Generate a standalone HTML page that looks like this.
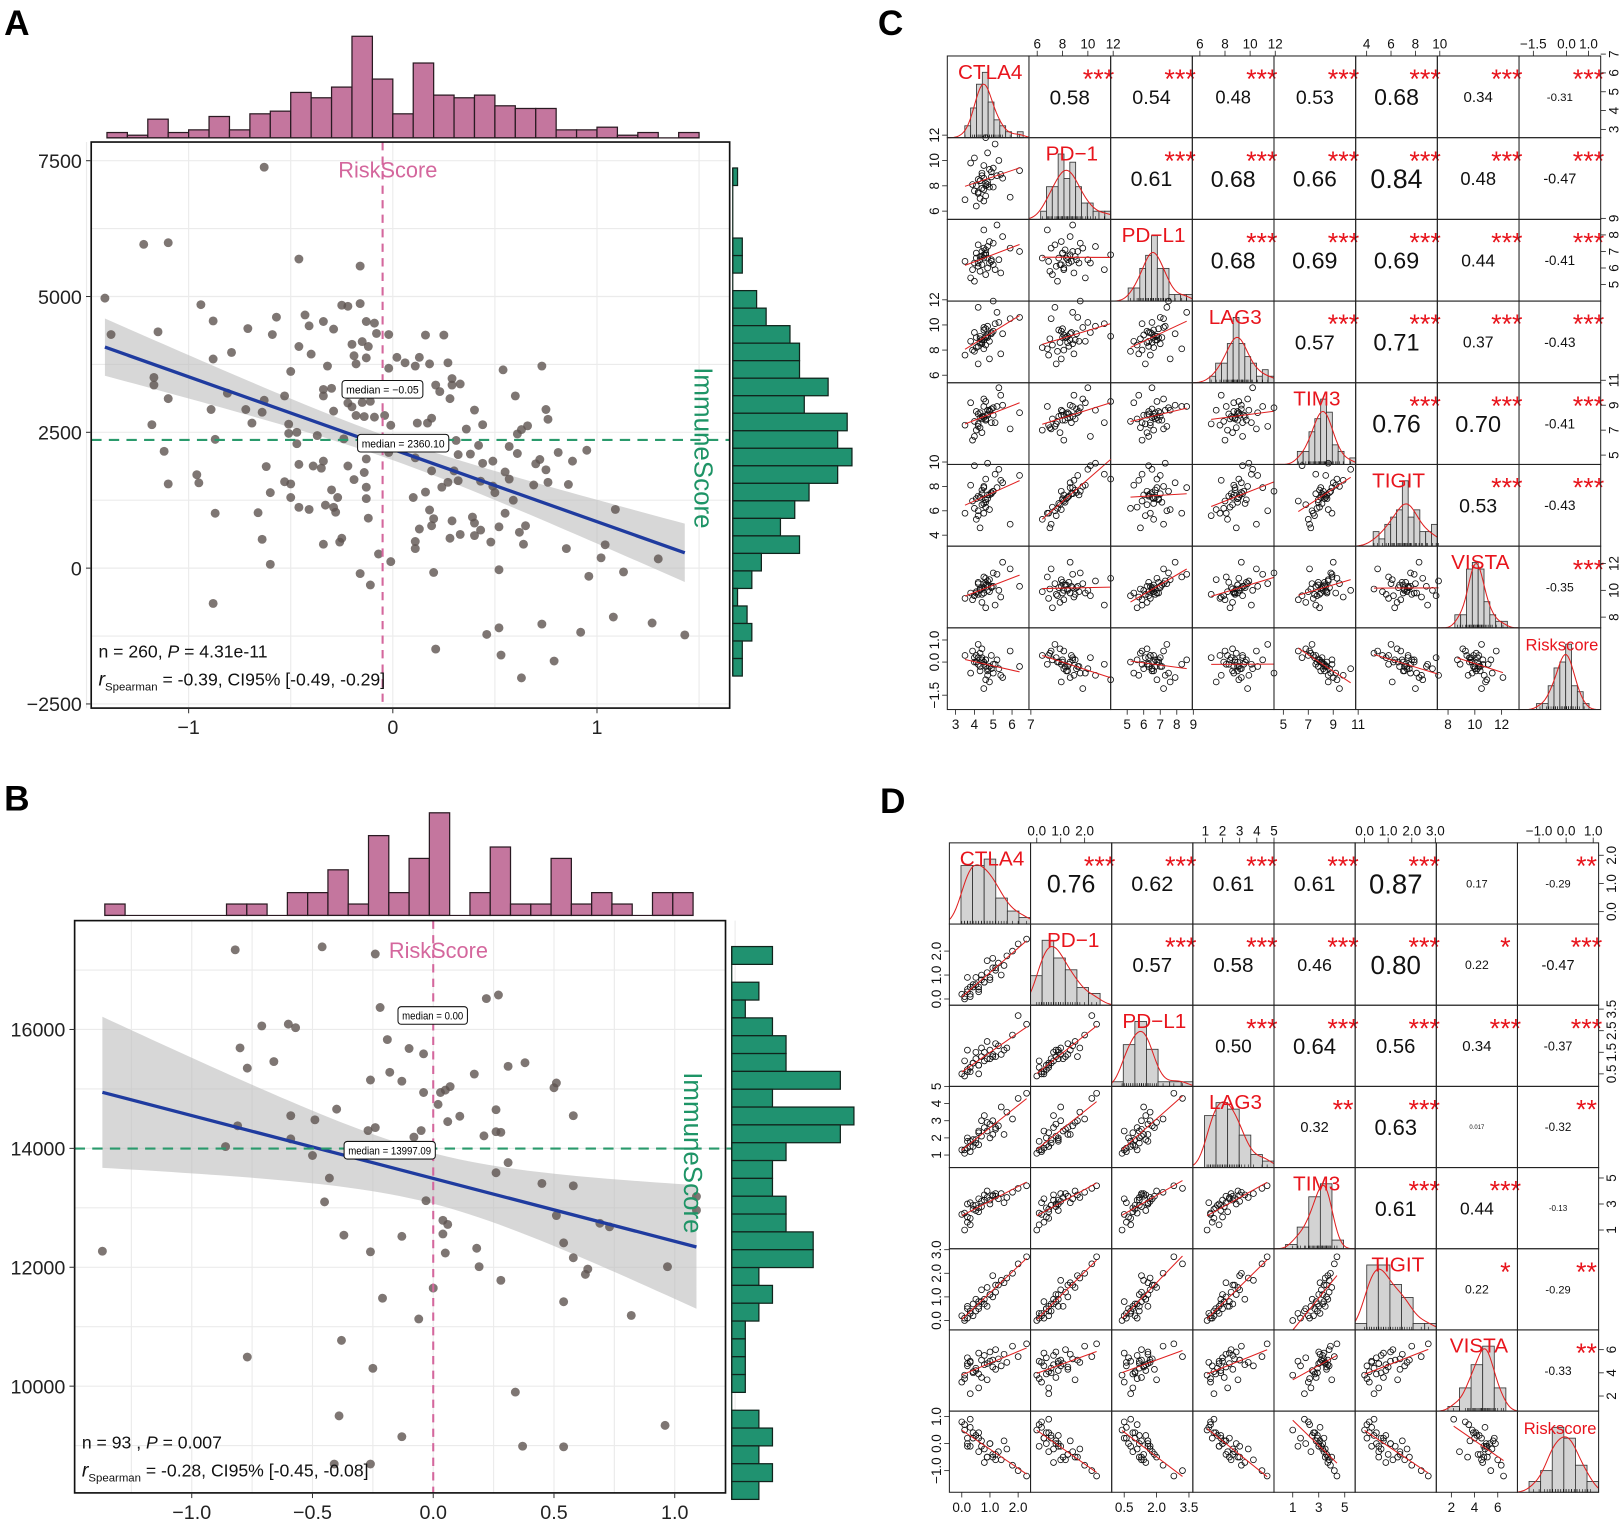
<!DOCTYPE html>
<html><head><meta charset="utf-8">
<style>
html,body{margin:0;padding:0;background:#fff;}
svg{display:block;font-family:"Liberation Sans",Arial,sans-serif;}
</style></head>
<body>
<svg id="fig" width="1621" height="1524" viewBox="0 0 1564 1470" preserveAspectRatio="none">
  <text x="4" y="34" font-size="34" font-weight="bold">A</text>
  <text x="4" y="782" font-size="34" font-weight="bold">B</text>
  <text x="847" y="34" font-size="34" font-weight="bold">C</text>
  <text x="849" y="784" font-size="34" font-weight="bold">D</text>
</svg>
<script>
// ===== Panel A data =====
const aRisk=[-0.63,-1.22,-1.10,-0.46,-0.16,-1.41,-0.94,-1.38,-1.15,-0.88,-0.71,-0.57,-0.59,-0.79,-0.88,-0.43,-0.41,-0.34,-0.29,-0.25,-0.22,-0.16,-0.13,-0.09,-0.08,-0.02,0.16,0.25,-0.46,-0.40,-0.50,-0.32,-0.20,-0.15,-0.12,-0.19,-0.13,-0.18,-0.02,0.02,0.06,0.11,0.13,0.18,0.27,0.54,0.73,-1.17,-1.17,-1.10,-0.81,-1.18,-0.89,-0.72,-0.64,-0.63,-0.53,-0.69,-0.51,-0.51,-0.47,-0.37,-0.34,-0.30,-0.34,-0.29,-0.22,-0.20,-0.15,-0.11,-0.18,-0.14,-0.09,-0.04,-0.01,0.12,0.17,0.19,0.21,0.23,0.29,0.29,0.33,0.28,0.40,0.60,0.75,0.76,0.66,0.63,0.61,0.44,0.36,0.31,0.42,0.38,0.32,0.57,0.61,0.81,0.95,0.88,0.72,0.70,0.75,0.44,0.49,0.19,0.11,-0.02,-0.10,-0.13,-0.22,-0.24,-0.47,-0.87,-1.12,-0.62,-0.46,-0.39,-0.35,-0.34,-0.14,-0.19,-0.13,-0.13,-0.30,-0.27,-0.12,-0.28,-0.33,-0.29,-0.46,-0.41,-0.50,-0.50,-0.53,-0.60,-0.66,-0.87,-1.10,-0.96,-0.95,0.30,0.55,0.57,0.43,0.49,0.50,0.59,0.69,0.76,0.86,0.32,0.27,0.24,0.16,0.10,0.18,0.20,0.55,0.29,0.39,0.40,0.19,0.52,0.65,0.62,0.43,0.40,0.33,0.28,0.13,0.11,0.11,0.48,0.64,0.85,1.04,1.09,1.02,1.30,0.96,1.13,0.52,0.20,-0.01,-0.07,-0.16,-0.11,-0.25,-0.26,-0.34,-0.64,-0.60,-0.88,1.08,1.27,1.43,0.92,0.73,0.52,0.46,0.21,0.53,0.79,0.63];
const aImmune=[7380,5960,5990,5690,5560,4970,4850,4300,4350,4550,4410,4620,4300,3970,3850,4660,4460,4540,4400,4840,4820,4870,4540,4510,4320,4300,4290,4290,4080,3940,3620,3720,4120,4170,4080,3910,3870,3760,3680,3880,3780,3720,3880,3760,3780,3650,3720,3510,3370,3120,3220,2640,2920,2920,2870,3090,3170,2670,2650,2480,2500,2440,3170,3310,3290,2890,3040,2970,3050,3070,2810,2790,2780,2810,2630,2670,2670,2760,3370,3250,3490,3370,3390,3120,2910,3170,2920,2740,2620,2550,2470,2640,2560,2350,2260,2100,2090,2240,2110,2130,2170,1970,2000,1920,1810,1930,1970,1790,2030,2130,2220,2010,1880,2380,2290,2370,2150,1870,1910,1880,1840,1970,1760,1630,1490,1280,1440,1300,920,1030,1160,1120,1120,1080,1300,1550,1590,1390,1020,1010,1550,1720,1570,1790,1770,1640,1600,1510,1390,1250,1530,1580,1540,1610,1580,1490,1400,1300,1070,910,1010,870,940,830,780,760,780,660,700,600,620,550,720,490,360,480,440,360,430,1080,190,170,-150,-70,-30,-80,120,260,-100,-310,550,480,440,530,70,-650,-900,-1010,-1230,-1180,-1030,-1100,-1220,-1490,-1600,-1710,-2020];
const aTopCounts=[2,1,7,2,3,8,3,9,10,17,15,19,38,22,9,28,16,15,16,12,11,11,3,3,4,1,2,0,2];
const aTopBinStart=-1.40, aTopBinWidth=0.1;
const aRightCounts=[1,0,0,0,2,2,0,5,7,12,14,14,20,15,24,22,25,22,16,13,10,14,6,4,1,3,4,2,2];
const aRightBinStart=7366, aRightBinWidth=322.5;
const aXTicks=[-1,0,1];
const aYTicks=[7500,5000,2500,0,-2500];
const aMedX=-0.05, aMedY=2360.10;

// ===== Panel B data =====
const bRisk=[-1.37,-0.82,-0.46,-0.24,-0.22,0.22,0.27,-0.71,-0.60,-0.57,-0.80,-0.77,-0.66,-0.19,-0.10,-0.04,-0.26,-0.18,-0.13,-0.04,0.03,0.05,0.07,0.17,0.31,0.38,0.50,0.51,-0.40,-0.59,-0.49,-0.59,-0.81,-0.86,-0.27,-0.24,-0.05,-0.08,0.02,0.06,0.11,0.26,0.21,0.26,0.28,0.58,-0.50,-0.43,-0.45,-0.03,0.31,0.26,0.45,0.58,0.51,0.69,0.73,1.09,1.09,-0.37,-0.13,-0.26,0.04,0.06,0.04,0.05,0.18,0.19,0.54,0.58,0.63,0.64,0.97,0.28,0.00,-0.21,-0.06,0.54,0.82,-0.38,-0.77,-0.25,0.34,-0.39,-0.13,0.96,0.37,0.54,-0.41,-0.26];
const bImmune=[12270,17340,17390,17270,16370,16520,16580,16060,16090,16030,15690,15350,15460,15830,15680,15590,15150,15280,15130,14940,14940,14980,15040,15250,15380,15440,15020,15100,14660,14550,14480,14160,14380,14030,14300,14350,14300,14190,14740,14450,14540,14650,14210,14280,14270,14550,13880,13500,13100,13120,13760,13590,13410,13370,12870,12740,12680,13190,12960,12540,12520,12260,12790,12720,12560,12240,12320,12010,12410,12160,11880,11970,12010,11780,11650,11480,11130,11420,11190,10770,10490,10300,9900,9500,9150,9340,8990,8980,8690,8690];
const bTopCounts=[1,0,0,0,0,0,1,1,0,2,2,4,1,7,2,5,9,0,2,6,1,1,5,1,2,1,0,2,2];
const bTopBinStart=-1.36, bTopBinWidth=0.084;
const bRightCounts=[3,0,2,1,3,4,4,8,3,9,8,4,3,3,4,4,6,6,2,3,2,1,1,1,1,0,2,3,2,3,2];
const bRightBinStart=17395, bRightBinWidth=300;
const bXTicks=[-1.0,-0.5,0.0,0.5,1.0];
const bYTicks=[16000,14000,12000,10000];
const bMedX=0.00, bMedY=13997.09;

// ===== Panel C data =====
const cNames=["CTLA4","PD\u22121","PD\u2212L1","LAG3","TIM3","TIGIT","VISTA","Riskscore"];
const cCTLA4=[3.5,3.9,4.1,4.0,4.3,4.6,4.2,4.4,4.7,4.5,4.3,4.8,4.6,4.9,4.4,5.0,5.1,4.8,5.4,5.9,3.8,4.2,4.0,4.5,4.1,4.4,4.6,4.3,4.5,4.7,4.2,4.9,4.5,4.7,5.2,4.6,5.0,5.3,5.5,6.4];
const cPD1=[6.9,8.1,6.4,7.6,7.0,7.2,7.5,7.8,8.3,8.6,8.4,9.3,8.0,9.1,8.8,7.9,11.3,7.9,8.9,7.1,9.8,7.4,10.2,6.8,8.0,9.0,8.2,8.4,7.7,8.1,8.5,8.7,9.6,10.6,8.8,11.8,9.4,10.0,8.6,9.2];
const cPDL1=[6.4,5.9,6.6,5.2,5.8,5.6,6.1,6.2,6.6,6.8,6.7,6.3,6.9,6.5,7.0,6.2,5.9,7.6,5.7,7.2,5.4,7.4,6.3,8.3,6.9,6.7,7.1,6.5,6.6,6.0,6.3,6.4,7.2,7.3,8.6,6.8,7.5,6.5,7.9,7.0];
const cLAG3=[7.6,8.0,8.2,7.9,8.9,8.4,6.9,8.6,9.0,8.8,9.1,8.7,9.7,9.3,8.5,9.5,10.1,7.3,7.7,10.5,8.7,11.4,9.4,8.1,9.0,8.8,9.0,8.6,9.6,9.2,8.3,9.4,9.8,9.9,11.0,9.1,11.9,10.2,9.3,10.6];
const cTIM3=[7.4,6.2,7.0,7.7,7.2,7.9,7.5,6.8,8.3,8.0,8.4,8.5,7.8,8.7,8.1,8.2,7.6,8.6,9.8,7.1,9.2,7.3,6.5,8.9,8.5,7.9,7.8,8.0,8.1,8.2,8.3,7.6,9.5,8.6,8.9,9.3,8.8,10.4,9.0,8.4];
const cTIGIT=[5.8,6.8,5.3,6.2,4.6,6.3,5.6,6.5,7.0,7.9,7.1,7.3,6.9,7.5,7.4,7.6,9.0,6.1,8.5,4.9,8.1,6.0,9.7,5.8,7.0,7.7,6.7,7.1,6.6,7.3,7.2,7.4,8.0,9.9,7.9,8.6,7.6,9.4,8.3,8.9];
const cVISTA=[9.4,9.3,9.9,9.6,10.1,8.7,9.7,9.1,10.4,9.8,10.0,9.9,10.6,10.2,10.2,10.3,8.9,10.8,9.5,11.6,9.8,10.5,9.6,11.0,9.8,9.7,10.4,10.1,10.2,10.0,10.6,10.3,10.5,10.7,11.2,10.9,11.3,10.0,12.1,10.3];
const cRisk=[0.3,0.5,0.3,0.0,0.4,0.1,0.2,0.6,-0.4,0.0,-0.2,-0.2,0.1,-0.3,0.2,-0.1,-0.1,-0.9,-0.6,0.5,-0.5,0.8,0.2,-0.1,0.0,0.1,-0.2,-0.4,0.0,-0.3,-0.1,0.3,-1.2,-0.6,0.1,-0.8,-0.5,-0.3,-0.7,-0.2];
const cRanges=[[2.56,6.9],[5.35,11.8],[4.0,8.94],[5.4,11.9],[4.25,10.8],[3.1,9.8],[7.2,13.3],[-2.15,1.55]];
const cCors=[[0.58,0.54,0.48,0.53,0.68,0.34,-0.31],[0.61,0.68,0.66,0.84,0.48,-0.47],[0.68,0.69,0.69,0.44,-0.41],[0.57,0.71,0.37,-0.43],[0.76,0.70,-0.41],[0.53,-0.43],[-0.35]];
const cStars=[["***","***","***","***","***","***","***"],["***","***","***","***","***","***"],["***","***","***","***","***"],["***","***","***","***"],["***","***","***"],["***","***"],["***"]];
const cTicks=[["3","4","5","6","7"],["6","8","10","12"],["5","6","7","8","9"],["6","8","10","12"],["5","7","9","11"],["4","6","8","10"],["8","10","12"],["-1.5","0.0","1.0"]];

// ===== Panel D data =====
const dNames=["CTLA4","PD\u22121","PD\u2212L1","LAG3","TIM3","TIGIT","VISTA","Riskscore"];
const dCTLA4=[0.1,0.2,0.0,0.3,0.4,0.2,0.5,0.6,0.3,0.7,0.8,0.5,0.9,1.0,0.6,1.1,0.7,1.2,0.4,1.3,0.8,1.5,0.9,1.6,1.0,1.8,1.2,2.0,0.3,1.4,0.1,0.6,2.3,0.2,1.1];
const dPD1=[0.0,0.3,0.2,0.1,0.5,0.4,0.6,0.5,0.2,0.8,0.7,0.9,1.1,0.8,0.4,1.3,1.0,1.2,0.6,1.5,0.7,1.4,1.6,1.8,0.9,2.0,1.3,2.3,0.5,1.0,0.1,0.3,2.5,0.9,1.7];
const dPDL1=[0.4,0.6,0.5,0.8,1.0,0.7,1.2,0.9,0.6,1.3,1.1,1.5,1.2,1.6,0.9,1.4,1.7,1.3,1.0,1.8,1.5,1.6,2.0,1.7,1.2,2.3,1.9,3.2,0.8,1.4,1.1,0.5,2.8,1.6,1.3];
const dLAG3=[1.1,1.4,1.3,1.8,1.5,2.0,1.7,2.3,1.2,2.1,2.6,1.9,2.4,2.8,1.6,2.2,3.0,2.5,1.9,2.7,3.3,2.2,2.9,3.5,2.0,3.1,2.6,4.3,1.5,3.8,1.3,2.4,4.6,1.8,3.0];
const dTIM3=[1.0,1.6,2.2,1.4,2.6,2.0,2.9,2.4,3.1,2.8,3.3,2.5,3.5,3.0,2.7,3.6,3.2,3.8,2.9,3.4,3.7,3.1,4.0,3.5,3.3,3.9,3.6,4.2,1.9,3.8,2.3,3.4,4.4,3.0,3.7];
const dTIGIT=[0.0,0.1,0.2,0.3,0.2,0.5,0.4,0.6,0.3,0.8,0.7,0.9,0.6,1.1,0.5,1.0,1.3,1.2,0.7,1.5,0.9,1.6,1.4,1.8,1.1,2.0,1.5,2.4,0.4,1.7,0.1,0.8,2.7,0.6,1.9];
const dVISTA=[3.8,4.6,3.2,5.0,4.1,5.3,4.4,2.7,4.9,3.6,5.5,4.2,4.8,5.8,3.9,4.5,5.1,6.0,4.0,5.2,4.7,5.6,3.4,4.9,5.0,6.3,4.3,5.4,2.2,4.6,3.5,5.7,6.5,4.8,5.1];
const dRisk=[0.5,0.2,0.8,-0.1,0.4,0.0,0.3,-0.3,0.6,0.1,-0.2,0.3,-0.5,0.0,0.4,-0.4,-0.1,-0.6,0.2,-0.3,-0.7,0.1,-0.5,-0.2,0.0,-0.8,-0.4,-1.0,0.9,-0.6,0.7,0.2,-1.2,-0.1,-0.5];
const dRanges=[[-0.44,2.44],[-0.26,3.13],[-0.08,3.68],[0.27,5.0],[-0.44,5.8],[-0.4,3.04],[0.7,7.7],[-1.8,1.2]];
const dCors=[[0.76,0.62,0.61,0.61,0.87,0.17,-0.29],[0.57,0.58,0.46,0.80,0.22,-0.47],[0.50,0.64,0.56,0.34,-0.37],[0.32,0.63,0.017,-0.32],[0.61,0.44,-0.13],[0.22,-0.29],[-0.33]];
const dStars=[["***","***","***","***","***","","**"],["***","***","***","***","*","***"],["***","***","***","***","***"],["**","***","","**"],["***","***",""],["*","**"],["**"]];
const dTicksTB=[["0.0","1.0","2.0"],["0.0","1.0","2.0"],["0.5","2.0","3.5"],["1","2","3","4","5"],["1","3","5"],["0.0","1.0","2.0","3.0"],["2","4","6"],["-1.0","0.0","1.0"]];
const dTicksLR=[["0.0","1.0","2.0"],["0.0","1.0","2.0"],["0.5","1.5","2.5","3.5"],["1","2","3","4","5"],["1","3","5"],["0.0","1.0","2.0","3.0"],["2","4","6"],["-1.0","0.0","1.0"]];

// ===== helpers =====
const svg=document.getElementById('fig');
const NS=svg.namespaceURI;
function mk(tag,attrs,parent){const e=document.createElementNS(NS,tag);for(const k in attrs)e.setAttribute(k,attrs[k]);(parent||svg).appendChild(e);return e;}
function txt(s,attrs,parent){const e=mk('text',attrs,parent);e.textContent=s;return e;}
function fmtMinus(s){return s.replace('-','\u2212');}
function linfit(xs,ys){const n=Math.min(xs.length,ys.length);let mx=0,my=0;for(let i=0;i<n;i++){mx+=xs[i];my+=ys[i];}mx/=n;my/=n;let sxx=0,sxy=0;for(let i=0;i<n;i++){sxx+=(xs[i]-mx)**2;sxy+=(xs[i]-mx)*(ys[i]-my);}const b=sxy/sxx,a=my-b*mx;let sse=0;for(let i=0;i<n;i++){sse+=(ys[i]-a-b*xs[i])**2;}const s=Math.sqrt(sse/(n-2));return{a,b,mx,sxx,s,n};}

// ===== Scatter panel drawing =====
function drawScatter(cfg){
  const g=mk('g',{});
  
  
  const X=cfg.X,Y=cfg.Y,b=cfg.box;
  const clipId=cfg.name+'-clip';
  const cp=mk('clipPath',{id:clipId},g);
  mk('rect',{x:b.x0,y:b.y0,width:b.x1-b.x0,height:b.y1-b.y0},cp);
  const grid=mk('g',{stroke:'#ebebeb','stroke-width':1.1},g);
  
  
  cfg.xGrid.forEach(v=>{const l=mk('line',{x1:X(v),x2:X(v),y1:b.y0,y2:b.y1},grid);});
  cfg.yGrid.forEach(v=>{const y=Y(v);if(y<b.y0||y>b.y1)return;const l=mk('line',{x1:b.x0,x2:b.x1,y1:y,y2:y},grid);});
  const f=linfit(cfg.xs,cfg.ys);
  let xmin=Math.min(...cfg.xs),xmax=Math.max(...cfg.xs);
  const up=[],lo=[];
  for(let k=0;k<=60;k++){const xv=xmin+(xmax-xmin)*k/60;const yh=f.a+f.b*xv;const se=f.s*Math.sqrt(1/f.n+(xv-f.mx)**2/f.sxx)*1.97;up.push(X(xv)+','+Y(yh+se));lo.unshift(X(xv)+','+Y(yh-se));}
  const band=mk('polygon',{points:up.concat(lo).join(' '),fill:'#bdbdbd','fill-opacity':0.6,'clip-path':'url(#'+clipId+')'},g);
  
  
  const pg=mk('g',{fill:'#5e5450','fill-opacity':0.8},g);
  
  
  const n=Math.min(cfg.xs.length,cfg.ys.length);
  for(let i=0;i<n;i++){const c=mk('circle',{cx:X(cfg.xs[i]),cy:Y(cfg.ys[i]),r:4.3},pg);}
  const rl=mk('line',{x1:X(xmin),y1:Y(f.a+f.b*xmin),x2:X(xmax),y2:Y(f.a+f.b*xmax),stroke:'#1f3b9f','stroke-width':3.2,'clip-path':'url(#'+clipId+')'},g);
  
  
  const vl=mk('line',{x1:X(cfg.medX),x2:X(cfg.medX),y1:b.y0,y2:b.y1,stroke:'#d4679d','stroke-width':2,'stroke-dasharray':'8,6'},g);
  
  
  const hl=mk('line',{x1:b.x0,x2:b.x1+cfg.hExtend,y1:Y(cfg.medY),y2:Y(cfg.medY),stroke:'#2a9a6c','stroke-width':2,'stroke-dasharray':'10,7'},g);
  
  
  cfg.medLabels.forEach(m=>{
    const r=mk('rect',{x:m.x,y:m.y,width:m.w,height:17,rx:3,fill:'#fff',stroke:'#111','stroke-width':1},g);
    
    
    const t=txt(m.t,{x:m.x+m.w/2,y:m.y+12.5,'font-size':10.5,'text-anchor':'middle',textLength:m.w-8,lengthAdjust:'spacingAndGlyphs'},g);
    
    
  });
  const rs=txt('RiskScore',{x:X(cfg.medX)+5,y:cfg.rsY,'font-size':21,fill:'#d4679d','text-anchor':'middle'},g);
  
  
  const is=txt('ImmuneScore',{x:0,y:0,'font-size':25,fill:'#1e9466','text-anchor':'middle',transform:'translate('+cfg.isX+','+cfg.isY+') rotate(90)'},g);
  
  
  const fr=mk('rect',{x:b.x0,y:b.y0,width:b.x1-b.x0,height:b.y1-b.y0,fill:'none',stroke:'#111','stroke-width':1.6},g);
  
  
  cfg.xTicks.forEach(v=>{
    mk('line',{x1:X(v),x2:X(v),y1:b.y1,y2:b.y1+5,stroke:'#333','stroke-width':1},g);
    const t=txt(fmtMinus(cfg.xFmt(v)),{x:X(v),y:b.y1+25,'font-size':19,'text-anchor':'middle',fill:'#222'},g);
    
    
  });
  cfg.yTicks.forEach(v=>{
    mk('line',{x1:b.x0-5,x2:b.x0,y1:Y(v),y2:Y(v),stroke:'#333','stroke-width':1},g);
    const t=txt(fmtMinus(String(v)),{x:b.x0-9,y:Y(v)+7,'font-size':19,'text-anchor':'end',fill:'#222'},g);
    
    
  });
  const th=mk('g',{fill:'#c4769e',stroke:'#2a1a22','stroke-width':1.2},g);
  
  
  cfg.topCounts.forEach((c,i)=>{const x0=X(cfg.topStart+i*cfg.topW),x1=X(cfg.topStart+(i+1)*cfg.topW);const h=c*cfg.topUnit;const r=mk('rect',{x:x0,y:cfg.topBase-h,width:x1-x0,height:h},th);});
  mk('line',{x1:X(cfg.topStart),x2:X(cfg.topStart+cfg.topCounts.length*cfg.topW),y1:cfg.topBase,y2:cfg.topBase,stroke:'#2a1a22','stroke-width':1.2},g);
  const rh=mk('g',{fill:'#209270',stroke:'#10241c','stroke-width':1.2},g);
  
  
  cfg.rightCounts.forEach((c,i)=>{const y0=Y(cfg.rightStart-i*cfg.rightW),y1=Y(cfg.rightStart-(i+1)*cfg.rightW);const w=c*cfg.rightUnit;const r=mk('rect',{x:cfg.rightBase,y:y0,width:w,height:y1-y0},rh);});
  mk('line',{x1:cfg.rightBase,x2:cfg.rightBase,y1:Y(cfg.rightStart),y2:Y(cfg.rightStart-cfg.rightCounts.length*cfg.rightW),stroke:'#10241c','stroke-width':1.2},g);
  const s1=txt('',{x:b.x0+7,y:cfg.statY,'font-size':17,fill:'#111'},g);
  
  
  mk('tspan',{},s1).textContent=cfg.nText;
  mk('tspan',{'font-style':'italic'},s1).textContent='P';
  mk('tspan',{},s1).textContent=cfg.pText;
  const s2=txt('',{x:b.x0+7,y:cfg.statY+27,'font-size':17,fill:'#111'},g);
  
  
  mk('tspan',{'font-style':'italic','font-size':19},s2).textContent='r';
  mk('tspan',{'font-size':11,dy:5},s2).textContent='Spearman';
  mk('tspan',{dy:-5},s2).textContent=cfg.rText;
}

const aX=v=>379+197*v, aY=v=>548-v*0.0524;
drawScatter({name:'panel-a',X:aX,Y:aY,box:{x0:88,x1:704,y0:137,y1:683},xs:aRisk,ys:aImmune,
  xGrid:[-1.5,-1,-0.5,0,0.5,1,1.5],yGrid:[8750,7500,6250,5000,3750,2500,1250,0,-1250,-2500],
  medX:aMedX,medY:aMedY,hExtend:0,
  medLabels:[{x:330,y:367,w:78,t:'median = \u22120.05'},{x:345,y:419,w:88,t:'median = 2360.10'}],
  rsY:171,isX:670,isY:432,xTicks:aXTicks,yTicks:aYTicks,xFmt:v=>String(v),
  topCounts:aTopCounts,topStart:aTopBinStart,topW:aTopBinWidth,topBase:133,topUnit:98/38,
  rightCounts:aRightCounts,rightStart:aRightBinStart,rightW:aRightBinWidth,rightBase:707,rightUnit:4.6,
  statY:634,nText:'n = 260, ',pText:' = 4.31e-11',rText:' = -0.39, CI95% [-0.49, -0.29]'});

const bX=v=>418+233*v, bY=v=>993+(16000-v)/17.44;
drawScatter({name:'panel-b',X:bX,Y:bY,box:{x0:72,x1:700,y0:888,y1:1440},xs:bRisk,ys:bImmune,
  xGrid:[-1.25,-1,-0.75,-0.5,-0.25,0,0.25,0.5,0.75,1,1.25],yGrid:[17000,16000,15000,14000,13000,12000,11000,10000,9000],
  medX:bMedX,medY:bMedY,hExtend:6,
  medLabels:[{x:384,y:971,w:67,t:'median = 0.00'},{x:332,y:1101,w:88,t:'median = 13997.09'}],
  rsY:924,isX:660,isY:1112,xTicks:bXTicks,yTicks:bYTicks,xFmt:v=>v.toFixed(1),
  topCounts:bTopCounts,topStart:bTopBinStart,topW:bTopBinWidth,topBase:883,topUnit:11,
  rightCounts:bRightCounts,rightStart:bRightBinStart,rightW:bRightBinWidth,rightBase:706,rightUnit:13.1,
  statY:1397,nText:'n = 93 , ',pText:' = 0.007',rText:' = -0.28, CI95% [-0.45, -0.08]'});

// ===== Pairs =====
function drawPairs(P){
  const g=mk('g',{});
  
  
  const w=P.cell,n=8;
  const sx=(j,v)=>P.x0+j*w+(v-P.ranges[j][0])/(P.ranges[j][1]-P.ranges[j][0])*w;
  const sy=(i,v)=>P.y0+i*w+w-(v-P.ranges[i][0])/(P.ranges[i][1]-P.ranges[i][0])*w;
  for(let i=0;i<n;i++){for(let j=0;j<n;j++){
    const cx=P.x0+j*w,cy=P.y0+i*w;
    const cg=mk('g',{},g);
    if(i===j){
      
      
      const d=P.vars[i],r=P.ranges[i];const bw=(r[1]-r[0])/P.nb;const counts=new Array(P.nb).fill(0);
      d.forEach(v=>{let k=Math.floor((v-r[0])/bw);k=Math.max(0,Math.min(P.nb-1,k));counts[k]++;});
      const mx=Math.max(...counts);const unit=0.8*w/mx;
      counts.forEach((c,k)=>{if(!c)return;const x0=sx(i,r[0]+k*bw),x1=sx(i,r[0]+(k+1)*bw);const bar=mk('rect',{x:x0,y:cy+w-c*unit,width:x1-x0,height:c*unit,fill:'#d3d3d3',stroke:'#333','stroke-width':0.8},cg);});
      const m=d.reduce((a,b)=>a+b,0)/d.length;const sd=Math.sqrt(d.reduce((a,b)=>a+(b-m)**2,0)/(d.length-1));const h=1.06*sd*Math.pow(d.length,-0.2);
      const pts=[];for(let k=0;k<=50;k++){const xv=r[0]+(r[1]-r[0])*k/50;let s=0;d.forEach(v=>{s+=Math.exp(-0.5*((xv-v)/h)**2);});s=s/(h*Math.sqrt(2*Math.PI));const cnt=s*bw;pts.push(sx(i,xv)+','+(cy+w-cnt*unit));}
      const dl=mk('polyline',{points:pts.join(' '),fill:'none',stroke:'#e02020','stroke-width':1},cg);
      
      
      d.forEach(v=>{mk('line',{x1:sx(i,v),x2:sx(i,v),y1:cy+w-3,y2:cy+w,stroke:'#111','stroke-width':0.6},cg);});
      const lab=txt(P.names[i],{x:cx+w/2+2,y:cy+22,'font-size':P.names[i].length>6?16:20,fill:'#e8141c','text-anchor':'middle'},cg);
      
      
    } else if(j>i){
      
      
      const rv=P.cors[i][j-i-1];const s=Math.abs(rv)<0.1?rv.toFixed(3):rv.toFixed(2);
      const fs=118*(Math.abs(rv)+0.3)/1.3/s.length;
      const t=txt(s,{x:cx+w/2,y:cy+w/2+fs*0.36,'font-size':fs,'text-anchor':'middle',fill:'#111'},cg);
      
      
      const st=P.stars[i][j-i-1];
      if(st){const sEl=txt(st,{x:cx+0.8*w+4,y:cy+31,'font-size':26,'text-anchor':'middle',fill:'#e8141c'},cg);}
    } else {
      
      
      const xs=P.vars[j],ys=P.vars[i];
      for(let k=0;k<xs.length;k++){const c=mk('circle',{cx:sx(j,xs[k]),cy:sy(i,ys[k]),r:2.8,fill:'none',stroke:'#111','stroke-width':0.8},cg);}
      const f=linfit(xs,ys);const xa=Math.min(...xs),xb=Math.max(...xs);
      const fl=mk('line',{x1:sx(j,xa),y1:sy(i,f.a+f.b*xa),x2:sx(j,xb),y2:sy(i,f.a+f.b*xb),stroke:'#e02020','stroke-width':1},cg);
      
      
    }
    mk('rect',{x:cx,y:cy,width:w,height:w,fill:'none',stroke:'#222','stroke-width':1},cg);
  }}
  for(let j=0;j<n;j++){
    const top=(j%2===1);const labels=P.ticksTB[j];
    labels.forEach(l=>{const v=parseFloat(l);const x=sx(j,v);
      const yb=top?P.y0:P.y0+n*w;const dir=top?-1:1;
      mk('line',{x1:x,x2:x,y1:yb,y2:yb+dir*5,stroke:'#222','stroke-width':0.8},g);
      const t=txt(fmtMinus(l),{x:x,y:top?yb-7:yb+19,'font-size':13,'text-anchor':'middle',fill:'#111'},g);
      
      });
  }
  for(let i=0;i<n;i++){
    const left=(i%2===1);const labels=P.ticksLR[i];
    labels.forEach(l=>{const v=parseFloat(l);const y=sy(i,v);
      const xb=left?P.x0:P.x0+n*w;const dir=left?-1:1;
      mk('line',{x1:xb,x2:xb+dir*5,y1:y,y2:y,stroke:'#222','stroke-width':0.8},g);
      const tx=left?xb-8:xb+17;
      const t=txt(fmtMinus(l),{x:0,y:0,'font-size':13,'text-anchor':'middle',fill:'#111',transform:'translate('+tx+','+y+') rotate(-90)'},g);
      
      });
  }
}
drawPairs({name:'panel-c-pairs',x0:914,y0:54,cell:78.8,vars:[cCTLA4,cPD1,cPDL1,cLAG3,cTIM3,cTIGIT,cVISTA,cRisk],names:cNames,ranges:cRanges,cors:cCors,stars:cStars,ticksTB:cTicks,ticksLR:cTicks,nb:14});
drawPairs({name:'panel-d-pairs',x0:916,y0:813,cell:78.3,vars:[dCTLA4,dPD1,dPDL1,dLAG3,dTIM3,dTIGIT,dVISTA,dRisk],names:dNames,ranges:dRanges,cors:dCors,stars:dStars,ticksTB:dTicksTB,ticksLR:dTicksLR,nb:7});
</script>
</body></html>
